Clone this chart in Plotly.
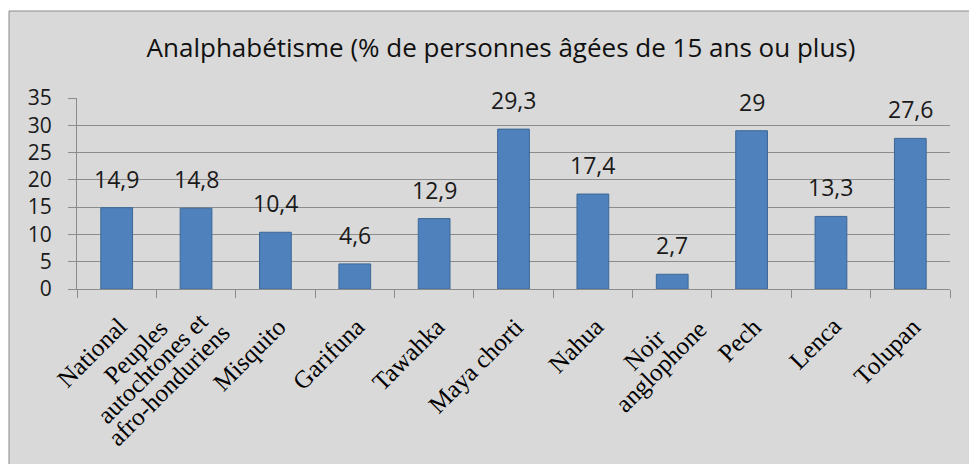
import plotly.graph_objects as go

categories = ["National", "Peuples<br>autochtones et<br>afro-honduriens", "Misquito", "Garifuna",
              "Tawahka", "Maya chorti", "Nahua", "Noir<br>anglophone", "Pech", "Lenca", "Tolupan"]
values = [14.9, 14.8, 10.4, 4.6, 12.9, 29.3, 17.4, 2.7, 29, 13.3, 27.6]
labels = [("%g" % v).replace(".", ",") for v in values]
y_ticks = [0, 5, 10, 15, 20, 25, 30, 35]
title = "Analphabétisme (% de personnes âgées de 15 ans ou plus)"

# page body has an 8px margin: the figure starts at (8, 8) in the window
W, H = 969, 456
L, R, T, B = 69, 27, 90, 175
pw, ph = W - L - R, H - T - B

fig = go.Figure()
fig.add_trace(go.Bar(
    x=categories, y=values,
    marker=dict(color="#4f81bd", line=dict(color="#3c6896", width=1)),
    width=0.4, hoverinfo="skip",
))
for c, v, t in zip(categories, values, labels):
    fig.add_annotation(x=c, y=v, text=t, showarrow=False, yanchor="bottom", yshift=11,
                       font=dict(family="Open Sans", size=23, color="#1a1a1a"))
for c in categories:
    lines = c.split("<br>")
    n = len(lines)
    txt = "<br>".join('<span style="font-size:25px">%s</span>' % ln for ln in lines)
    fig.add_annotation(x=c, y=0, text=txt, showarrow=False, textangle=-45,
                       xanchor="right", yanchor="top", align="center",
                       xshift=18 + 24 * min(n - 1, 1), yshift=-21 + 14 * (n - 1),
                       font=dict(family="Liberation Serif", size=18, color="black"))

fig.add_shape(type="rect", xref="paper", yref="paper",
              x0=(1 - L) / pw, x1=1.1, y0=-1.2, y1=(T + ph - 3) / ph,
              fillcolor="#d9d9d9", line=dict(color="#8a8a8a", width=1), layer="below")

fig.update_layout(
    width=W, height=H,
    margin=dict(l=L, r=R, t=T, b=B, autoexpand=False),
    paper_bgcolor="white", plot_bgcolor="#e7e7e7",
    showlegend=False,
    title=dict(text=title, x=(501 - 8) / W, xanchor="center", y=1 - (48 - 8) / H, yanchor="middle",
               yref="container", font=dict(family="Open Sans", size=26, color="#111111")),
    xaxis=dict(type="category", range=[-0.5, len(categories) - 0.5], showline=True,
               linecolor="#8c8c8c", ticks="outside", tickson="boundaries", ticklen=8,
               tickcolor="#8c8c8c", showticklabels=False, showgrid=False),
    yaxis=dict(range=[0, 35], tickvals=y_ticks, showline=True, linecolor="#8c8c8c",
               ticks="outside", ticklen=8, tickcolor="#8c8c8c", gridcolor="#8c8c8c",
               gridwidth=1, zeroline=False, ticklabelstandoff=12,
               tickfont=dict(family="Open Sans", size=21, color="#1a1a1a")),
)
fig.write_html("out.html")
